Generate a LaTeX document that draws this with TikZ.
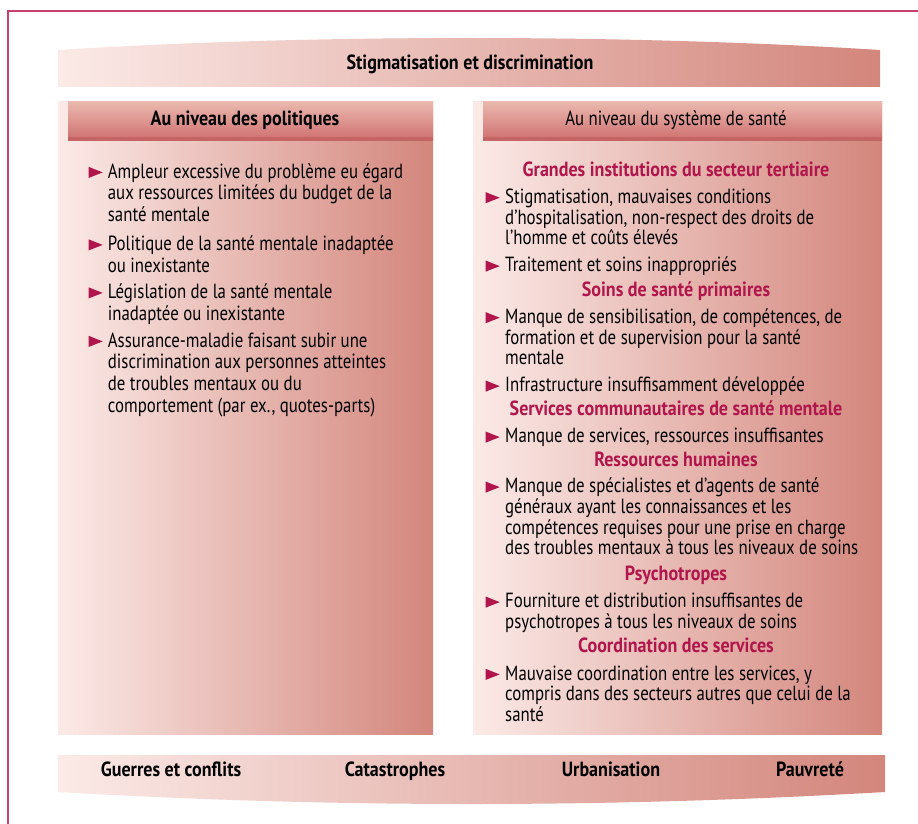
\documentclass[tikz,border=0pt]{standalone}
\usepackage{fontspec}
\setmainfont[FakeStretch=0.82,BoldFeatures={FakeStretch=0.88}]{PT Sans}

\definecolor{crim}{RGB}{176,22,76}
\definecolor{framec}{RGB}{198,66,106}
\definecolor{pale}{RGB}{251,234,231}
\definecolor{rose}{RGB}{211,134,124}
\definecolor{hdtop}{RGB}{234,184,174}
\definecolor{hdbot}{RGB}{206,110,110}
\definecolor{hdline}{RGB}{196,100,100}

% line pitch of the bulleted text
\def\ls{21.7}
% bullet item: name, bullet x, first baseline y, text x, number of lines, text
\newcommand\bitem[6]{%
  \fill[crim] (#2,#3) -- (#2,#3+11.2) -- (#2+14.2,#3+5.6) -- cycle;
  \node[itemtxt] (#1) at (#4,{#3-(#5-1)*\ls}) {#6};
}

\begin{document}
\begin{tikzpicture}[x=1pt,y=1pt,
  itemtxt/.style={anchor=base west, align=left, inner sep=0pt,
    font=\fontsize{20.5}{\ls}\selectfont},
  heading/.style={anchor=base, inner sep=0pt, text=crim,
    font=\fontsize{20.5}{21}\selectfont\bfseries},
  bannertxt/.style={anchor=base, inner sep=0pt,
    font=\fontsize{20.5}{21}\selectfont\bfseries},
  plaintxt/.style={anchor=base, inner sep=0pt,
    font=\fontsize{20.5}{21}\selectfont},
  panel/.style={left color=pale, right color=rose},
  header/.style={top color=hdtop, bottom color=hdbot}]
\useasboundingbox (0,0) rectangle (918,-824);
\fill[white] (0,0) rectangle (918,-824);

% outer frame
\draw[framec, line width=2pt] (8,-840) -- (8,-11) -- (940,-11);

% top banner
\shade[panel] (58,-50) .. controls (313,-34) and (625,-34) .. (880,-50)
  -- (880,-87) -- (58,-87) -- cycle;
\node[bannertxt] (stig) at (470,-69.3) {Stigmatisation et discrimination};

% left panel
\shade[panel] (58,-102) rectangle (433,-734);
\shade[header] (68,-102) rectangle (433,-141);
\fill[hdline] (68,-137) rectangle (433,-141);
\node[bannertxt] (pol) at (245,-125.7) {Au niveau des politiques};

\bitem{p1}{88.5}{-178}{107.7}{3}{Ampleur excessive du problème eu égard\\aux ressources limitées du budget de la\\santé mentale}
\bitem{p2}{88.5}{-250.5}{107.7}{2}{Politique de la santé mentale inadaptée\\ou inexistante}
\bitem{p3}{88.5}{-298.5}{107.7}{2}{Législation de la santé mentale\\inadaptée ou inexistante}
\bitem{p4}{88.5}{-347}{107.7}{4}{Assurance-maladie faisant subir une\\discrimination aux personnes atteintes\\de troubles mentaux ou du\\comportement (par ex., quotes-parts)}

% right panel
\shade[panel] (473,-102) rectangle (882,-734);
\shade[header] (483,-102) rectangle (882,-141);
\fill[hdline] (483,-137) rectangle (882,-141);
\node[plaintxt] (sys) at (676,-125.7) {Au niveau du système de santé};

\def\ls{20.7}
\node[heading] (h1) at (676,-176) {Grandes institutions du secteur tertiaire};
\bitem{s1}{485.5}{-203.3}{505}{3}{Stigmatisation, mauvaises conditions\\d’hospitalisation, non-respect des droits de\\l’homme et coûts élevés}
\bitem{s2}{485.5}{-271.7}{505}{1}{Traitement et soins inappropriés}
\node[heading] (h2) at (676,-296) {Soins de santé primaires};
\bitem{s3}{485.5}{-323.3}{505}{3}{Manque de sensibilisation, de compétences, de\\formation et de supervision pour la santé\\mentale}
\bitem{s4}{485.5}{-391.7}{505}{1}{Infrastructure insuffisamment développée}
\node[heading] (h3) at (676,-415) {Services communautaires de santé mentale};
\bitem{s5}{485.5}{-442.7}{505}{1}{Manque de services, ressources insuffisantes}
\node[heading] (h4) at (676,-466.7) {Ressources humaines};
\bitem{s6}{485.5}{-492.7}{505}{4}{Manque de spécialistes et d’agents de santé\\généraux ayant les connaissances et les\\compétences requises pour une prise en charge\\des troubles mentaux à tous les niveaux de soins}
\node[heading] (h5) at (676,-580) {Psychotropes};
\bitem{s7}{485.5}{-607.7}{505}{2}{Fourniture et distribution insuffisantes de\\psychotropes à tous les niveaux de soins}
\node[heading] (h6) at (676,-652.3) {Coordination des services};
\bitem{s8}{485.5}{-680}{505}{3}{Mauvaise coordination entre les services, y\\compris dans des secteurs autres que celui de la\\santé}

% bottom banner
\shade[panel] (58,-755) -- (885,-755) -- (885,-792)
  .. controls (609,-808) and (334,-808) .. (58,-792) -- cycle;
\node[bannertxt] (war) at (171,-776.7) {Guerres et conflits};
\node[bannertxt] (cat) at (395,-776.7) {Catastrophes};
\node[bannertxt] (urb) at (611,-776.7) {Urbanisation};
\node[bannertxt] (pov) at (810,-776.7) {Pauvreté};
\end{tikzpicture}
\end{document}
